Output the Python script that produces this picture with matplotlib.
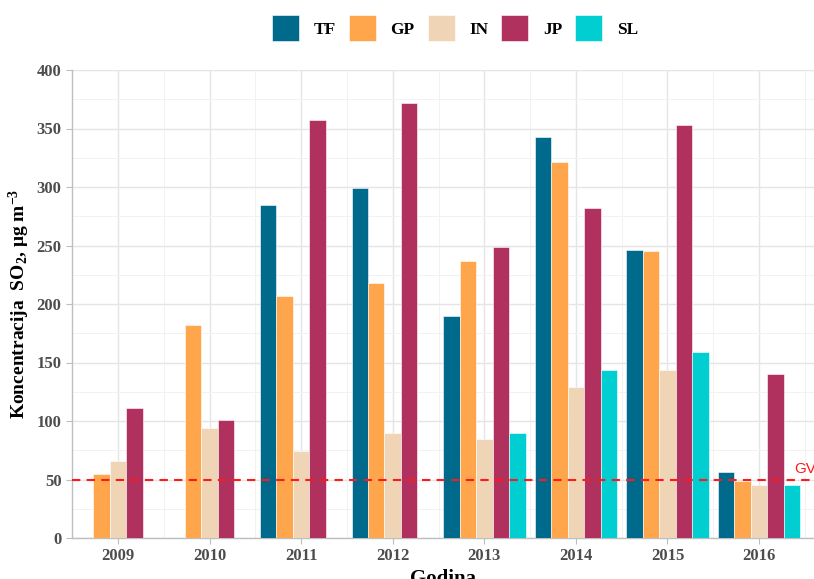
import matplotlib.pyplot as plt
import numpy as np
from matplotlib.patches import Patch

# godine i mjerna mjesta
years = [2009, 2010, 2011, 2012, 2013, 2014, 2015, 2016]
stations = ["TF", "GP", "IN", "JP", "SL"]
colors = ["#006A8C", "#FFA64D", "#EFD5B6", "#B0315E", "#00CED1"]

# koncentracije SO2 (nan = nema mjerenja)
tf = [np.nan, np.nan, 285, 299, 190, 343, 246, 56]
gp = [55, 182, 207, 218, 237, 321, 245, 49]
inn = [66, 94, 74, 90, 85, 129, 144, 45]
jp = [111, 101, 357, 372, 249, 282, 353, 140]
sl = [np.nan, np.nan, np.nan, np.nan, 90, 144, 159, 45]
gv = 50

series = [tf, gp, inn, jp, sl]

plt.rcParams['font.family'] = ['Liberation Serif', 'DejaVu Serif']
plt.rcParams['font.weight'] = 'bold'
plt.rcParams['mathtext.fontset'] = 'custom'
plt.rcParams['mathtext.rm'] = 'Liberation Serif:bold'
plt.rcParams['mathtext.it'] = 'Liberation Serif:bold'
plt.rcParams['mathtext.bf'] = 'Liberation Serif:bold'

fig = plt.figure(figsize=(8.14, 5.79), dpi=100)
ax = fig.add_axes([72/814, 1-538/579, 742/814, (538-70)/579])

x = np.array(years)
w = 0.18
for i, (vals, c) in enumerate(zip(series, colors)):
    ax.bar(x + (i - 2) * w, vals, width=w, color=c, edgecolor="white", linewidth=0.4, zorder=3)

ax.axhline(gv, color="#FF1A1A", linestyle=(0, (4, 3)), linewidth=1.5, zorder=4)
ax.text(2016.38, gv + 3, "GV", color="#FF1A1A", fontsize=11, family="Liberation Sans",
        fontweight="normal", ha="left", va="bottom")

ax.set_xlim(2009 - 0.502, 2016 + 0.6)
ax.set_ylim(0, 400)
ax.set_xticks(years)
ax.set_xticks(np.arange(2008.5, 2017, 1), minor=True)
ax.set_yticks(np.arange(0, 401, 50))
ax.set_yticks(np.arange(25, 400, 50), minor=True)
ax.grid(which="major", color="#E5E5E5", linewidth=1.0, zorder=0)
ax.grid(which="minor", color="#F2F2F2", linewidth=0.7, zorder=0)

for s in ["top", "right"]:
    ax.spines[s].set_visible(False)
for s in ["left", "bottom"]:
    ax.spines[s].set_color("#BEBEBE")
    ax.spines[s].set_linewidth(1.0)
ax.tick_params(which="major", length=4, color="#BEBEBE", labelcolor="#4D4D4D", labelsize=12)
ax.tick_params(which="minor", length=0)

ax.set_xlabel("Godina", fontsize=15, fontweight="bold", labelpad=3)
ax.set_ylabel(r"Koncentracija  SO$_2$, $\mu$g m$^{-3}$", fontsize=14, fontweight="bold", labelpad=3)

handles = [Patch(facecolor=c, edgecolor="white", linewidth=0.4) for c in colors]
fig.legend(handles, stations, loc="center", bbox_to_anchor=(455/814, 1-28/579), ncol=5,
           frameon=False, fontsize=12.5, handlelength=1.55, handleheight=2.0,
           handletextpad=0.85, columnspacing=0.75)

fig.savefig("out.png", dpi=100)
